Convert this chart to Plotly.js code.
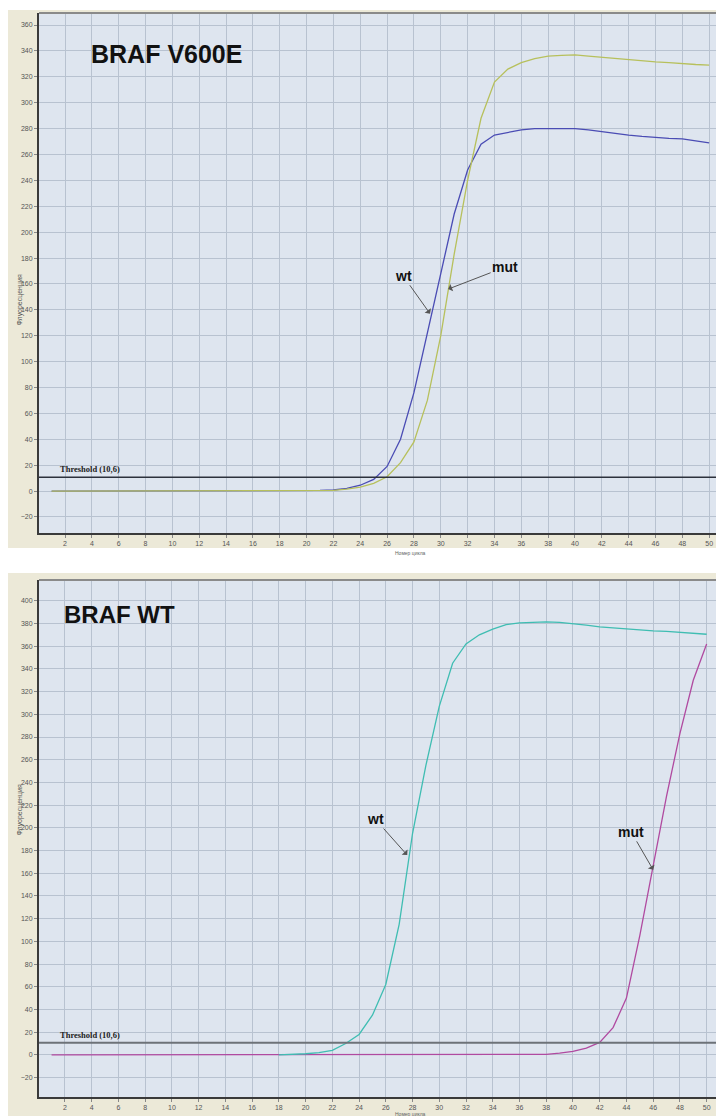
<!DOCTYPE html>
<html><head><meta charset="utf-8">
<script src="https://cdn.plot.ly/plotly-3.0.1.min.js"></script>
<style>html,body{margin:0;padding:0;background:#fff;}#chart{width:716px;height:1116px;}</style>
</head><body><div id="chart"></div>
<script>
// ---- data ----
const cycles = [1,2,3,4,5,6,7,8,9,10,11,12,13,14,15,16,17,18,19,20,21,22,23,24,25,26,27,28,29,30,31,32,33,34,35,36,37,38,39,40,41,42,43,44,45,46,47,48,49,50];
const xTicks = [2,4,6,8,10,12,14,16,18,20,22,24,26,28,30,32,34,36,38,40,42,44,46,48,50];
const yTicksTop = [-20,0,20,40,60,80,100,120,140,160,180,200,220,240,260,280,300,320,340,360];
const yTicksBottom = [-20,0,20,40,60,80,100,120,140,160,180,200,220,240,260,280,300,320,340,360,380,400];
const threshold = 10.6;
const thresholdLabel = "Threshold (10,6)";
const panelTitles = ["BRAF V600E", "BRAF WT"];
const seriesNames = ["wt", "mut"];
const yTitle = "Флуоресценция";
const xTitle = "Номер цикла";

// BRAF V600E panel
const v600eWt = [0,0,0,0,0,0,0,0,0,0,0,0,0,0,0,0,0,0,0,0.3,0.5,0.8,2,4.5,9,19,40,76,122,170,214,248,268,275,277,279,280,280,280,280,279,277.5,276,275,274,273,272.5,272,270.5,269];
const v600eMut = [0,0,0,0,0,0,0,0,0,0,0,0,0,0,0,0,0,0,0,0,0,0.5,1.5,3,6,11,22,38,70,120,183,240,288,316,326,331,334,336,336.5,337,336,335,334,333,332.5,331.5,331,330,329.5,329];
// BRAF WT panel
const wtWt = [null,null,null,null,null,null,null,null,null,null,null,null,null,null,null,null,null,0,0.3,1,2,4,10,18,35,62,115,195,255,307,345,362,370,375,379,380.5,381,381.5,381,380,378.5,377,376,375,374,373.5,373,372,371.5,370.5];
const wtMut = [0,0,0,0,0,0,0,0,0,0,0,0,0,0,0,0,0,0,0,0,0,0,0,0,0,0,0,0,0,0,0,0,0,0,0,0,0,0.5,1.5,3,6,11,24,50,105,165,228,283,330,362];

// ---- layout helpers ----
const W = 716, H = 1116;
const px = p => p / W;
const py = p => 1 - p / H;
const beige = '#ECE9D8', plotBg = '#DEE5EF', gridC = '#B8C2D0';

const traces = [
  {x: cycles, y: v600eWt, xaxis: 'x', yaxis: 'y', mode: 'lines', name: seriesNames[0], line: {color: '#4A4CB4', width: 1.3}},
  {x: cycles, y: v600eMut, xaxis: 'x', yaxis: 'y', mode: 'lines', name: seriesNames[1], line: {color: '#B7C05C', width: 1.3}},
  {x: cycles, y: wtMut, xaxis: 'x2', yaxis: 'y2', mode: 'lines', name: seriesNames[1], line: {color: '#B04AA0', width: 1.3}},
  {x: cycles, y: wtWt, xaxis: 'x2', yaxis: 'y2', mode: 'lines', name: seriesNames[0], line: {color: '#3FBDB2', width: 1.3}, connectgaps: false}
];

const tickFont = {family: 'Liberation Sans, Arial, sans-serif', size: 7, color: '#555'};
function xAxis(anchor, range) {
  return {domain: [px(39), 1], range: range, anchor: anchor, tickmode: 'array', tickvals: xTicks,
    showgrid: true, gridcolor: gridC, gridwidth: 1, zeroline: false, showline: true, linecolor: '#3a3a3a', linewidth: 2,
    ticks: 'outside', ticklen: 3, tickcolor: '#888', tickfont: tickFont, fixedrange: true, ticklabelstandoff: 0};
}
function yAxis(anchor, domain, range, ticks) {
  return {domain: domain, range: range, anchor: anchor, tickmode: 'array', tickvals: ticks,
    showgrid: true, gridcolor: gridC, gridwidth: 1, zeroline: false, showline: true, linecolor: '#3a3a3a', linewidth: 2,
    ticks: 'outside', ticklen: 3, tickcolor: '#888', tickfont: tickFont, fixedrange: true};
}

const shapes = [
  {type: 'rect', xref: 'paper', yref: 'paper', x0: px(8), x1: 1, y0: py(548), y1: py(10), fillcolor: beige, line: {width: 0}, layer: 'below'},
  {type: 'rect', xref: 'paper', yref: 'paper', x0: px(8), x1: 1, y0: 0, y1: py(573), fillcolor: beige, line: {width: 0}, layer: 'below'},
  {type: 'rect', xref: 'paper', yref: 'paper', x0: px(39), x1: 1, y0: py(533), y1: py(13), fillcolor: plotBg, line: {width: 0}, layer: 'below'},
  {type: 'rect', xref: 'paper', yref: 'paper', x0: px(39), x1: 1, y0: py(1097), y1: py(580), fillcolor: plotBg, line: {width: 0}, layer: 'below'},
  {type: 'line', xref: 'paper', yref: 'paper', x0: px(39), x1: 1, y0: py(13), y1: py(13), line: {color: '#8a8a8a', width: 2}},
  {type: 'line', xref: 'paper', yref: 'paper', x0: px(39), x1: 1, y0: py(580), y1: py(580), line: {color: '#8a8a8a', width: 2}},
  {type: 'line', xref: 'x domain', yref: 'y', x0: 0, x1: 1, y0: threshold, y1: threshold, line: {color: '#2c313c', width: 1.5}},
  {type: 'line', xref: 'x2 domain', yref: 'y2', x0: 0, x1: 1, y0: threshold, y1: threshold, line: {color: '#6d7278', width: 2}}
];

const lblFont = {family: 'Liberation Sans, Arial, sans-serif', size: 14, color: '#111'};
const arrowStyle = {showarrow: true, arrowhead: 1, arrowsize: 1.3, arrowwidth: 1, arrowcolor: '#555', font: lblFont};
const smallFont = {family: 'Liberation Sans, Arial, sans-serif', size: 7, color: '#555'};
const xTitleFont = {family: 'Liberation Sans, Arial, sans-serif', size: 5, color: '#666'};
const annotations = [
  {text: '<b>' + panelTitles[0] + '</b>', xref: 'paper', yref: 'paper', x: px(89), y: py(54), xanchor: 'left', yanchor: 'middle', showarrow: false,
   font: {family: 'Liberation Sans, Arial, sans-serif', size: 25, color: '#111'}},
  {text: '<b>' + panelTitles[1] + '</b>', xref: 'paper', yref: 'paper', x: px(62), y: py(614), xanchor: 'left', yanchor: 'middle', showarrow: false,
   font: {family: 'Liberation Sans, Arial, sans-serif', size: 24, color: '#111'}},
  {text: '<b>' + thresholdLabel + '</b>', xref: 'x', yref: 'y', x: 1.5, y: threshold, xanchor: 'left', yanchor: 'bottom', yshift: 1, showarrow: false,
   font: {family: 'Liberation Serif, Times New Roman, serif', size: 8.5, color: '#222'}},
  {text: '<b>' + thresholdLabel + '</b>', xref: 'x2', yref: 'y2', x: 1.5, y: threshold, xanchor: 'left', yanchor: 'bottom', yshift: 1, showarrow: false,
   font: {family: 'Liberation Serif, Times New Roman, serif', size: 8.5, color: '#222'}},
  Object.assign({text: '<b>' + seriesNames[0] + '</b>', xref: 'x', yref: 'y', x: 29.2, y: 137, ax: -27, ay: -38}, arrowStyle),
  Object.assign({text: '<b>' + seriesNames[1] + '</b>', xref: 'x', yref: 'y', x: 30.55, y: 156, ax: 57, ay: -22}, arrowStyle),
  Object.assign({text: '<b>' + seriesNames[0] + '</b>', xref: 'x2', yref: 'y2', x: 27.6, y: 176, ax: -32, ay: -36}, arrowStyle),
  Object.assign({text: '<b>' + seriesNames[1] + '</b>', xref: 'x2', yref: 'y2', x: 46.0, y: 163, ax: -22, ay: -38}, arrowStyle),
  {text: yTitle, xref: 'paper', yref: 'paper', x: px(13), y: py(273), textangle: -90, showarrow: false, font: smallFont},
  {text: yTitle, xref: 'paper', yref: 'paper', x: px(13), y: py(838), textangle: -90, showarrow: false, font: smallFont},
  {text: xTitle, xref: 'paper', yref: 'paper', x: px(410), y: py(549), yanchor: 'top', borderpad: 0, showarrow: false, font: xTitleFont},
  {text: xTitle, xref: 'paper', yref: 'paper', x: px(410), y: py(1109.5), yanchor: 'top', borderpad: 0, showarrow: false, font: xTitleFont}
];

const layout = {
  width: W, height: H, margin: {l: 0, r: 0, t: 0, b: 0},
  paper_bgcolor: '#ffffff', plot_bgcolor: plotBg, showlegend: false,
  xaxis: xAxis('y', [0.06, 50.51]),
  yaxis: yAxis('x', [py(533), py(13)], [-32.4, 369.3], yTicksTop),
  xaxis2: xAxis('y2', [0.06, 50.7]),
  yaxis2: yAxis('x2', [py(1097), py(580)], [-37.1, 418.3], yTicksBottom),
  shapes: shapes, annotations: annotations
};

Plotly.newPlot('chart', traces, layout, {staticPlot: true, displayModeBar: false});
</script></body></html>
